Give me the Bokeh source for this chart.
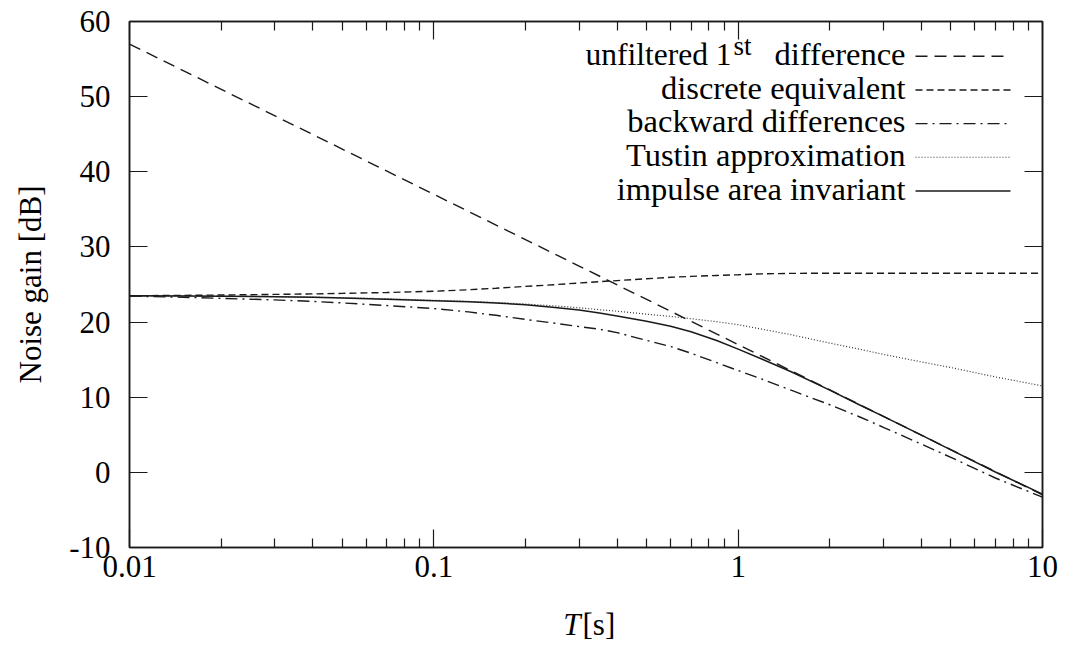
from bokeh.plotting import figure
from bokeh.layouts import column
from bokeh.models import (LogAxis, LinearAxis, FixedTicker, CustomJSTickFormatter,
                          Range1d)
from bokeh.core.properties import value
from bokeh.embed import file_html
from bokeh.resources import INLINE

# ---- data ----
T = [0.01, 0.015, 0.02, 0.03, 0.04, 0.05, 0.07, 0.1, 0.13, 0.16, 0.2, 0.25, 0.3,
     0.35, 0.4, 0.5, 0.6, 0.7, 0.85, 1, 1.2, 1.5, 2, 2.5, 3, 4, 5, 7, 10]
unf_T = [0.01, 10]
unfiltered = [57.0, -3.0]
discrete = [23.5, 23.55, 23.6, 23.68, 23.75, 23.82, 23.93, 24.1, 24.3, 24.5, 24.75,
            24.98, 25.2, 25.38, 25.52, 25.77, 25.96, 26.08, 26.2, 26.3, 26.42, 26.48,
            26.5, 26.5, 26.5, 26.5, 26.5, 26.5, 26.5]
backward = [23.45, 23.3, 23.15, 22.95, 22.75, 22.55, 22.2, 21.8, 21.35, 20.9, 20.35,
            19.85, 19.4, 19.05, 18.6, 17.56, 16.75, 15.86, 14.6, 13.55, 12.4, 10.9,
            9.0, 7.4, 6.0, 3.75, 2.0, -0.75, -3.3]
tustin = [23.5, 23.48, 23.45, 23.4, 23.33, 23.25, 23.1, 22.9, 22.75, 22.6, 22.4,
          22.15, 21.9, 21.65, 21.45, 21.05, 20.75, 20.45, 20.05, 19.65, 19.05, 18.3,
          17.2, 16.4, 15.7, 14.7, 13.95, 12.7, 11.5]
impulse = [23.5, 23.48, 23.45, 23.38, 23.3, 23.22, 23.05, 22.85, 22.7, 22.55, 22.3,
           21.95, 21.6, 21.2, 20.8, 20.1, 19.45, 18.72, 17.55, 16.4, 15.05, 13.35,
           10.95, 9.0, 7.45, 4.95, 3.0, 0.05, -2.9]

series_labels = ["unfiltered 1st difference", "discrete equivalent",
                 "backward differences", "Tustin approximation", "impulse area invariant"]

x_major = [0.01, 0.1, 1, 10]
x_minor = [m * d for d in (0.01, 0.1, 1) for m in range(2, 10)]
y_major = [-10, 0, 10, 20, 30, 40, 50, 60]

FONT = "'Liberation Serif', 'Times New Roman', Times, serif"
INK = "#1a1a1a"

W, H = 1070, 647
H_MAIN = 605
FL, FR, FT, FB = 129.0, 1042.0, 21.3, 546.3

p = figure(width=W, height=H_MAIN, x_axis_type="log",
           x_range=Range1d(0.01, 10), y_range=Range1d(-10, 60),
           output_backend="svg", toolbar_location=None,
           min_border_left=int(FL), min_border_right=int(W - FR),
           min_border_top=21, min_border_bottom=int(H_MAIN - FB))
p.xgrid.visible = False
p.ygrid.visible = False
p.outline_line_color = INK
p.outline_line_width = 1.5
p.background_fill_color = "white"
p.border_fill_color = "white"

fmt = CustomJSTickFormatter(code="return tick.toString()")
blank = CustomJSTickFormatter(code="return ''")


def style_axis(ax, labels=True):
    ax.axis_line_color = INK
    ax.axis_line_width = 1.5
    ax.major_tick_in = 18
    ax.major_tick_out = 0
    ax.minor_tick_in = 9
    ax.minor_tick_out = 0
    ax.major_tick_line_color = INK
    ax.minor_tick_line_color = INK
    ax.major_tick_line_width = 1.2
    ax.minor_tick_line_width = 1.2
    if labels:
        ax.major_label_text_font = FONT
        ax.major_label_text_font_size = "31px"
        ax.major_label_text_color = "black"
        ax.formatter = fmt
    else:
        ax.formatter = blank
        ax.major_label_text_font_size = "1px"
        ax.major_label_standoff = 0


xa = p.xaxis[0]
xa.ticker = FixedTicker(ticks=x_major, minor_ticks=x_minor)
style_axis(xa)
xa.major_label_standoff = 8

ya = p.yaxis[0]
ya.ticker = FixedTicker(ticks=y_major, minor_ticks=[])
style_axis(ya)
ya.major_label_standoff = 19
ya.axis_label = "Noise gain [dB]"
ya.axis_label_text_font = FONT
ya.axis_label_text_font_size = "31px"
ya.axis_label_text_font_style = "normal"
ya.axis_label_text_color = "black"
ya.axis_label_standoff = 18

top = LogAxis(ticker=FixedTicker(ticks=x_major, minor_ticks=x_minor))
style_axis(top, labels=False)
p.add_layout(top, "above")
right = LinearAxis(ticker=FixedTicker(ticks=y_major, minor_ticks=[]))
style_axis(right, labels=False)
p.add_layout(right, "right")

dashes = ["12 7", "7 4", "12 5 2 5", "1 2", "solid"]
widths = [1.4, 1.4, 1.4, 1.2, 1.5]
colors = [INK, INK, INK, "#333333", INK]
xs = [unf_T, T, T, T, T]
ys = [unfiltered, discrete, backward, tustin, impulse]
for xv, yv, d, w, c in zip(xs, ys, dashes, widths, colors):
    p.line(xv, yv, line_color=c, line_width=w, line_dash=d)


# ---- legend (label left, sample right), placed in page pixels ----
def tx(px):
    return 10 ** ((px - FL) / ((FR - FL) / 3.0) - 2)


def ty(py):
    return 60 - (py - FT) * 70.0 / (FB - FT)


BASE_FIX = 0.37  # the svg text lands this many em below the requested baseline


def txt(fig, x, y_px, s, size=32.5, align="right", style="normal", conv=ty):
    y = conv(y_px - BASE_FIX * size)
    fig.text(x=[x], y=[y], text=[s], text_align=value(align),
             text_baseline=value("alphabetic"),
             text_font=value(FONT), text_font_size=value(f"{size}px"),
             text_font_style=value(style), text_color="black")


base0, step = 65.7, 33.6
for i, lab in enumerate(series_labels):
    b = base0 + i * step
    p.line([tx(915), tx(1010)], [ty(b - 9.7)] * 2, line_color=colors[i],
           line_width=widths[i], line_dash=dashes[i])
    if i == 0:
        txt(p, tx(905), b, "difference")
        txt(p, tx(733), b - 10, "st", size=27, align="left")
        txt(p, tx(731), b, "unfiltered 1", size=31.5)
    else:
        txt(p, tx(905), b, lab)

# ---- strip below the plot carrying the x axis title: italic T and upright [s] ----
# (its frame is aligned with the main frame, so x is given in page pixels)
H_STRIP = H - H_MAIN
q = figure(width=W, height=H_STRIP,
           x_range=Range1d(FL, FR), y_range=Range1d(H, H_MAIN),
           output_backend="svg", toolbar_location=None,
           x_axis_location=None, y_axis_location=None,
           min_border=0, min_border_top=0, min_border_bottom=0)
q.xgrid.visible = False
q.ygrid.visible = False
q.outline_line_color = None
q.background_fill_color = "white"
q.border_fill_color = "white"
same = lambda v: v
txt(q, 580, 635, "T", size=31, align="right", style="italic", conv=same)
txt(q, 582, 635, "[s]", size=31, align="left", conv=same)

open("out.html", "w").write(file_html(column(p, q, spacing=0), INLINE))
